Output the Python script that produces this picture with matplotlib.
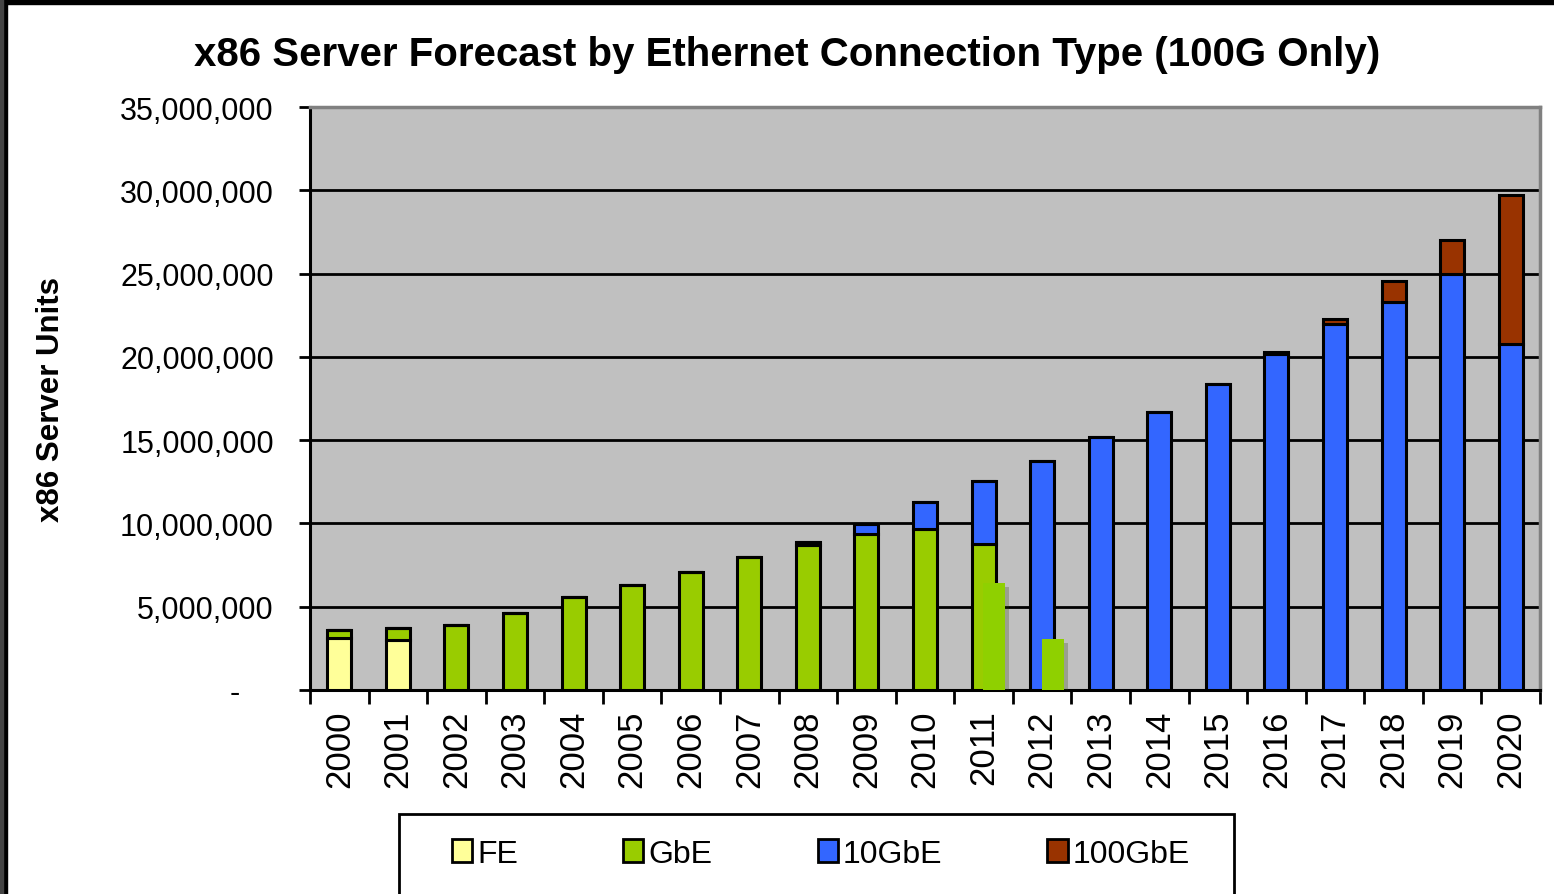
import numpy as np
import matplotlib.pyplot as plt
import matplotlib.patheffects as pe
from matplotlib.patches import Rectangle, Patch
from matplotlib.ticker import FuncFormatter

plt.rcParams['font.family'] = ['Liberation Sans', 'DejaVu Sans']

# data (server units)
years = [str(y) for y in range(2000, 2021)]
fe = [3.1e6, 3.0e6, 0, 0, 0, 0, 0, 0, 0, 0, 0, 0, 0, 0, 0, 0, 0, 0, 0, 0, 0]
gbe = [0.5e6, 0.74e6, 3.9e6, 4.64e6, 5.56e6, 6.32e6, 7.08e6, 7.98e6, 8.72e6,
       9.37e6, 9.66e6, 8.76e6, 0, 0, 0, 0, 0, 0, 0, 0, 0]
gbe10 = [0, 0, 0, 0, 0, 0, 0, 0, 0.18e6, 0.6e6, 1.64e6, 3.79e6, 13.77e6,
         15.2e6, 16.7e6, 18.37e6, 20.15e6, 21.95e6, 23.3e6, 25.0e6, 20.75e6]
gbe100 = [0, 0, 0, 0, 0, 0, 0, 0, 0, 0, 0, 0, 0, 0, 0, 0, 0.17e6,
          0.35e6, 1.27e6, 2.0e6, 8.95e6]
# stray light-green boxes pasted over 2011 and 2012
overlay_years = ['2011', '2012']
overlay_vals = [6.42e6, 3.06e6]

col_fe = '#FFFF99'
col_gbe = '#99CC00'
col_10 = '#3366FF'
col_100 = '#993300'

fig = plt.figure(figsize=(15.54, 8.95), dpi=100)
ax = fig.add_axes([310/1554, 1-691/895, 1230/1554, 583/895])
ax.set_facecolor('#C0C0C0')

x = np.arange(len(years))
w = 0.41
kw = dict(width=w, edgecolor='black', linewidth=2.2, zorder=3)
fe = np.array(fe); gbe = np.array(gbe); gbe10 = np.array(gbe10); gbe100 = np.array(gbe100)
ax.bar(x, fe, color=col_fe, **kw)
ax.bar(x, gbe, bottom=fe, color=col_gbe, **kw)
ax.bar(x, gbe10, bottom=fe+gbe, color=col_10, **kw)
ax.bar(x, gbe100, bottom=fe+gbe+gbe10, color=col_100, **kw)

ox = [years.index(y) + 0.18 for y in overlay_years]
ax.bar(ox, overlay_vals, width=0.38, color='#8FD000', linewidth=0, zorder=4,
       path_effects=[pe.SimplePatchShadow(offset=(3, -3), alpha=0.25), pe.Normal()])

ax.set_xlim(-0.5, len(years)-0.5)
ax.set_ylim(0, 35e6)
ax.set_yticks(np.arange(0, 35e6+1, 5e6))
ax.yaxis.set_major_formatter(FuncFormatter(lambda v, p: '-    ' if v == 0 else f'{int(v):,}'))
ax.grid(axis='y', color='black', linewidth=2, zorder=1)
ax.set_axisbelow(True)

ax.set_xticks(x)
ax.set_xticklabels(years, rotation=90)
ax.set_xticks(np.arange(-0.5, len(years)), minor=True)
ax.tick_params(axis='x', which='major', length=0, pad=14, labelsize=25)
ax.tick_params(axis='x', which='minor', length=10, width=2, direction='out')
ax.tick_params(axis='y', length=8, width=2, pad=18, labelsize=22)

for s in ['top', 'right']:
    ax.spines[s].set_color('#808080')
    ax.spines[s].set_linewidth(2.5)
for s in ['left', 'bottom']:
    ax.spines[s].set_color('black')
    ax.spines[s].set_linewidth(2.2)

ax.set_ylabel('x86 Server Units', fontsize=22.5, fontweight='bold', labelpad=39)

fig.text(787/1554, 1-55/895, 'x86 Server Forecast by Ethernet Connection Type (100G Only)',
         ha='center', va='center', fontsize=29, fontweight='bold')

# legend box runs off the bottom of the picture
fig.patches.append(Rectangle((399/1554, -0.1), 835/1554, 0.1 + 1 - 815/895,
                             transform=fig.transFigure, facecolor='white',
                             edgecolor='black', linewidth=2, zorder=0))
handles = [Patch(facecolor=c, edgecolor='black', linewidth=2) for c in [col_fe, col_gbe, col_10, col_100]]
leg = fig.legend(handles, ['FE', 'GbE', '10GbE', '100GbE'], loc='center left',
                 bbox_to_anchor=(452/1554, 1-855/895), borderaxespad=0, borderpad=0,
                 ncol=4, fontsize=23, handlelength=0.63, handleheight=0.72,
                 handletextpad=0.15, columnspacing=3.3, frameon=False)

# black strips on the top and left edges of the picture
fig.patches.append(Rectangle((0, 1-5/895), 1, 5/895, transform=fig.transFigure, color='black'))
fig.patches.append(Rectangle((0, 0), 7/1554, 1, transform=fig.transFigure, color='black'))
fig.patches.append(Rectangle((0, 0), 3/1554, 1, transform=fig.transFigure, color='#444444'))

fig.savefig('out.png', dpi=100)
